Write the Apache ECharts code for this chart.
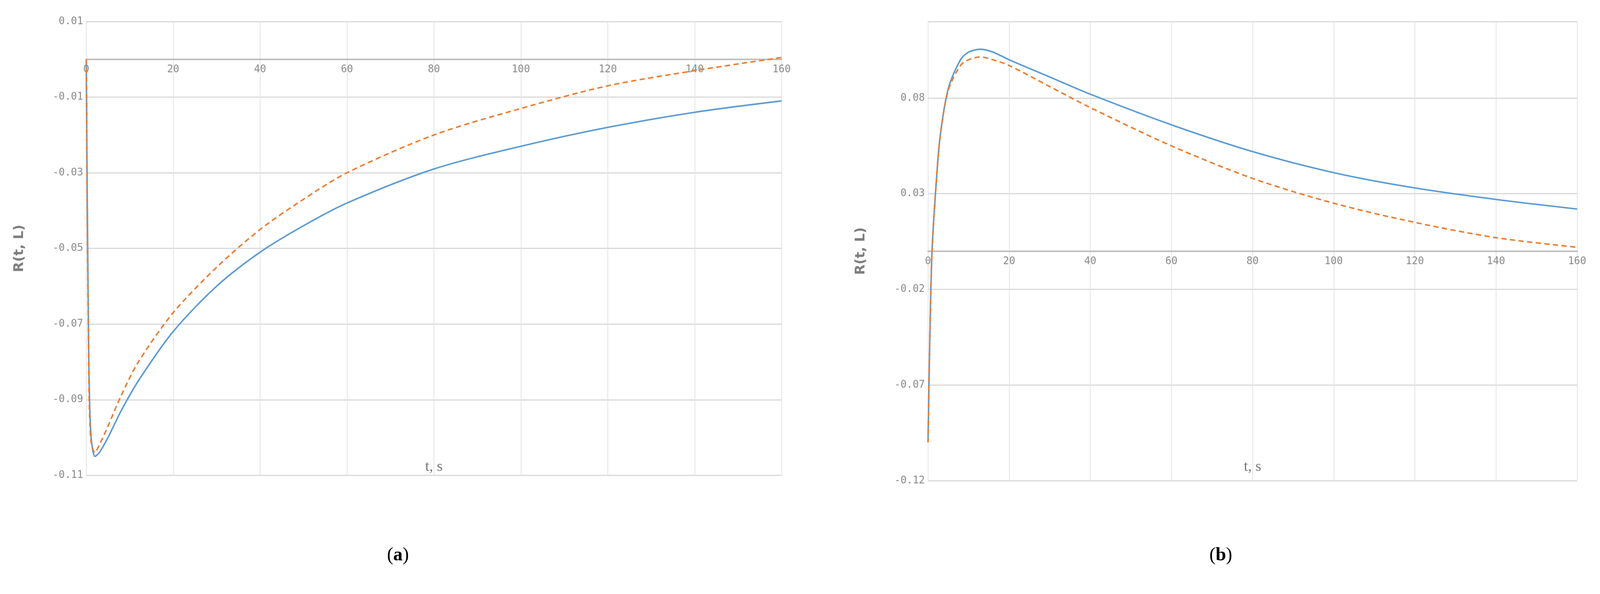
<!DOCTYPE html>
<html>
<head>
<meta charset="utf-8">
<script src="https://cdn.jsdelivr.net/npm/echarts@6/dist/echarts.min.js"></script>
<style>html,body{margin:0;background:#fff;overflow:hidden}#main{width:100vw;height:100vh}</style>
</head>
<body>
<div id="main"></div>
<script>
var tA = [0, 0.5, 1, 2, 3, 5, 8, 12, 20, 30, 40, 50, 60, 80, 100, 120, 140, 160];
var blueA = [0, -0.07, -0.098, -0.105, -0.104, -0.1, -0.093, -0.085, -0.072, -0.06, -0.051, -0.044, -0.038, -0.029, -0.023, -0.018, -0.014, -0.011];
var orangeA = [0, -0.075, -0.1, -0.104, -0.102, -0.097, -0.089, -0.08, -0.067, -0.055, -0.045, -0.037, -0.030, -0.020, -0.013, -0.007, -0.003, 0.0005];

var tB = [0, 0.5, 1, 2, 3, 5, 8, 10, 13, 16, 20, 30, 40, 60, 80, 100, 120, 140, 160];
var blueB = [-0.1, -0.04, 0.0, 0.035, 0.06, 0.085, 0.1, 0.104, 0.1055, 0.104, 0.1, 0.091, 0.082, 0.066, 0.052, 0.041, 0.033, 0.027, 0.022];
var orangeB = [-0.1, -0.04, 0.0, 0.035, 0.06, 0.084, 0.097, 0.1, 0.1015, 0.1, 0.097, 0.086, 0.075, 0.055, 0.038, 0.025, 0.015, 0.007, 0.002];

var yTicksA = { min: -0.11, max: 0.01, interval: 0.02 };
var yTicksB = { min: -0.12, max: 0.12, interval: 0.05 };

function pairs(t, v) {
    var out = [];
    for (var i = 0; i < t.length; i++) out.push([t[i], v[i]]);
    return out;
}

var myChart = echarts.init(document.getElementById('main'));
var W = myChart.getWidth(), H = myChart.getHeight();
var k = W / 4264;

var labelStyle = { color: '#8a8a8a', fontFamily: 'DejaVu Sans Mono', fontSize: 27 * k };

// grid boxes (reference proportions)
var gA = { left: 0.0539 * W, top: 0.0362 * H, width: 0.4346 * W, height: 0.764 * H };
var gB = { left: 0.58 * W, top: 0.0362 * H, width: 0.4057 * W, height: 0.773 * H };

function zeroOffset(g, ticks) {
    return -g.height * (0 - ticks.min) / (ticks.max - ticks.min);
}

function xAxis(idx, g, ticks) {
    return {
        type: 'value', gridIndex: idx, min: 0, max: 160, interval: 20,
        position: 'bottom', offset: zeroOffset(g, ticks),
        axisLine: { onZero: false, lineStyle: { color: '#bfbfbf', width: 4 * k } },
        axisTick: { show: false },
        axisLabel: Object.assign({ margin: 14 * k }, labelStyle),
        splitLine: { show: true, lineStyle: { color: '#e3e3e3', width: 2 * k } }
    };
}

function yAxis(idx, ticks, showMax) {
    return {
        type: 'value', gridIndex: idx, min: ticks.min, max: ticks.max, interval: ticks.interval,
        axisLine: { show: false }, axisTick: { show: false },
        axisLabel: Object.assign({ showMaxLabel: showMax, formatter: function (v) { return v.toFixed(2); } }, labelStyle),
        splitLine: { lineStyle: { color: '#d9d9d9', width: 3 * k } },
        name: 'R(t, L)', nameLocation: 'middle', nameGap: 160 * k,
        nameTextStyle: { color: '#7f7f7f', fontSize: 36 * k, fontWeight: 'bold', fontFamily: 'DejaVu Sans' }
    };
}

function centerText(x, y, text, font, fill) {
    return { type: 'text', x: x, y: y, style: { text: text, font: font, fill: fill, align: 'center', verticalAlign: 'middle' } };
}
function panelLabel(x, y, letter) {
    return {
        type: 'text', x: x, y: y,
        style: {
            text: '{p|(}{b|' + letter + '}{p|)}', align: 'center', verticalAlign: 'middle',
            rich: { p: { fontSize: 50 * k, fontFamily: 'Liberation Serif', color: '#000' },
                    b: { fontSize: 50 * k, fontFamily: 'Liberation Serif', fontWeight: 'bold', color: '#000' } }
        }
    };
}

var nameFont = (40 * k) + 'px "Liberation Sans Narrow"';

myChart.setOption({
    animation: false,
    grid: [gA, gB],
    xAxis: [xAxis(0, gA, yTicksA), xAxis(1, gB, yTicksB)],
    yAxis: [yAxis(0, yTicksA, true), yAxis(1, yTicksB, false)],
    graphic: [
        centerText(gA.left + gA.width / 2, 0.786 * H, 't, s', nameFont, '#777'),
        centerText(gB.left + gB.width / 2, 0.786 * H, 't, s', nameFont, '#777'),
        panelLabel(0.2487 * W, 0.935 * H, 'a'),
        panelLabel(0.763 * W, 0.935 * H, 'b')
    ],
    series: [
        { type: 'line', xAxisIndex: 0, yAxisIndex: 0, smooth: 0.3, showSymbol: false, data: pairs(tA, blueA), lineStyle: { color: '#5b9bd5', width: 4 * k } },
        { type: 'line', xAxisIndex: 0, yAxisIndex: 0, smooth: 0.3, showSymbol: false, data: pairs(tA, orangeA), lineStyle: { color: '#ed7d31', width: 4 * k, type: [14 * k, 9 * k] } },
        { type: 'line', xAxisIndex: 1, yAxisIndex: 1, smooth: 0.3, showSymbol: false, data: pairs(tB, blueB), lineStyle: { color: '#5b9bd5', width: 4 * k } },
        { type: 'line', xAxisIndex: 1, yAxisIndex: 1, smooth: 0.3, showSymbol: false, data: pairs(tB, orangeB), lineStyle: { color: '#ed7d31', width: 4 * k, type: [14 * k, 9 * k] } }
    ]
});
</script>
</body>
</html>
